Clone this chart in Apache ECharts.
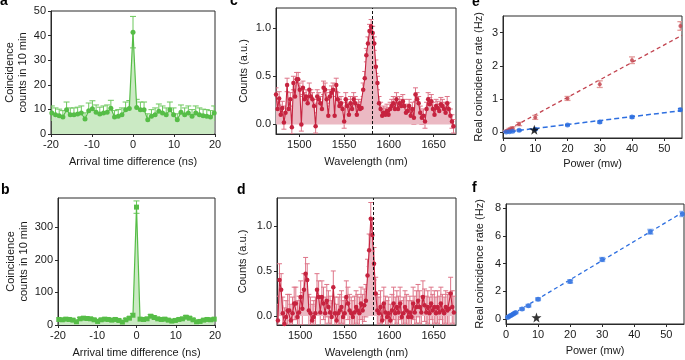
<!DOCTYPE html>
<html><head><meta charset="utf-8">
<script src="https://cdn.jsdelivr.net/npm/echarts@6/dist/echarts.min.js"></script>
<style>html,body{margin:0;padding:0;background:#fff}#c{width:685px;height:360px}</style>
</head><body><div id="c"></div>
<script>
// ---------- data ----------
// panel a: arrival time histogram (start/step of time bins)
const aStart = -19.8, aStep = 0.9;
const aCounts = [8.5,7.8,7.4,6.9,9.9,7.8,7.8,8.1,8.5,6.1,9.5,10.3,8.8,8.1,8.5,8.8,10.5,6.9,7.2,7.8,9.9,10.4,41.4,10.8,9.9,9.9,5.8,7.2,7.8,9.2,8.5,7.8,9.9,7.8,5.8,8.8,7.8,8.5,7.2,8.5,7.8,7.4,7.2,6.9,8.5];
const aErr = [2.9,2.8,2.7,2.6,3.1,2.8,2.8,2.8,2.9,2.5,3.1,3.2,3.0,2.8,2.9,3.0,3.2,2.6,2.7,2.8,3.1,3.2,6.4,3.3,3.1,3.1,2.4,2.7,2.8,3.0,2.9,2.8,3.1,2.8,2.4,3.0,2.8,2.9,2.7,2.9,2.8,2.7,2.7,2.6,2.9];
// panel b
const bStart = -19.8, bStep = 0.9;
const bCounts = [17,16,18,17,15,10,19,21,20,19,16,11,16,18,17,15,17,14,9,16,21,30,362,18,17,19,27,23,19,17,18,15,12,14,17,19,24,21,16,10,11,15,17,16,18];
const bErr = [4,4,4,4,4,3,4,5,4,4,4,3,4,4,4,4,4,4,3,4,5,5,19,4,4,4,5,5,4,4,4,4,3,4,4,4,5,5,4,3,3,4,4,4,4];
// panel c: spectrum (start/step of wavelength bins, nm)
const cStart = 1474, cStep = 1.77, cErr = 0.07, cLine = 1581;
const cCounts = [0.31,0.16,0.27,0.10,0.17,0.02,0.12,0.41,0.16,0.26,
-0.03,0.43,0.29,0.47,0.47,0.36,0.00,0.38,0.26,0.29,
0.22,0.36,0.29,0.26,0.19,-0.02,0.29,0.26,0.22,0.16,
0.38,0.36,0.26,0.09,0.29,0.33,0.36,0.09,0.41,0.26,
0.19,0.22,0.16,0.03,0.26,0.19,0.10,0.22,0.16,0.26,
0.22,0.10,0.19,0.16,0.17,0.36,0.48,0.72,0.84,0.97,
1.02,0.95,0.84,0.60,0.43,0.22,0.16,0.09,0.12,0.10,
0.14,0.10,0.16,0.19,0.22,0.16,0.26,0.16,0.22,0.19,
0.24,0.19,0.12,0.14,0.19,0.09,0.16,0.07,0.31,0.26,
0.22,0.12,0.07,0.09,0.03,0.16,0.26,0.21,0.24,0.16,
0.10,0.19,0.17,0.14,0.21,0.19,0.16,0.12,0.22,0.16,
0.09,0.03,-0.02];
// panel d
const dStart = 1475, dStep = 1.83, dErr = 0.18, dLine = 1582;
const dCounts = [-0.05,0.40,0.29,0.03,-0.09,-0.01,0.06,0.06,-0.05,0.03,
0.14,0.14,-0.01,0.04,0.21,0.08,0.29,0.47,0.40,0.06,
0.03,-0.05,-0.01,0.03,0.29,0.21,0.04,0.21,0.14,0.03,
0.17,0.10,0.04,-0.01,0.32,0.03,-0.05,0.03,0.06,0.10,
-0.01,0.03,0.21,0.14,0.06,0.03,-0.01,0.04,0.10,0.06,
0.03,0.14,0.06,0.12,0.17,0.45,0.73,1.08,0.90,0.58,
0.25,0.06,0.03,0.10,-0.05,0.14,0.04,-0.01,0.03,-0.05,
0.06,0.14,0.03,0.10,0.04,0.14,-0.01,0.03,0.10,0.06,
-0.01,0.04,-0.01,0.14,0.04,0.10,0.17,0.10,0.04,0.21,
0.12,0.04,0.10,0.03,0.14,0.06,0.10,0.03,0.10,0.04,
0.14,0.06,0.03,0.10,0.06,0.08,0.25,0.10,0.04];
// panel e
const ePowR = [1,1.5,2,2.5,3,5,10,20,30,40,55];
const eRateR = [0.03,0.05,0.08,0.10,0.12,0.25,0.45,1.02,1.45,2.17,3.20];
const eErrR = [0.03,0.03,0.04,0.04,0.05,0.05,0.06,0.06,0.10,0.10,0.13];
const eFitR = [[0,0],[55.5,2.92]];
const ePowB = [1,2,3,5,10,20,30,40,55];
const eRateB = [0.01,0.02,0.03,0.06,0.09,0.22,0.31,0.46,0.68];
const eErrB = [0.01,0.01,0.01,0.02,0.02,0.02,0.03,0.03,0.04];
const eFitB = [[0,0],[55.5,0.655]];
const eStar = [[9.7,0.08]];
// panel f
const fPow = [0.5,1,1.5,2,2.5,3,5,7,10,20,30,45,55];
const fRate = [0.12,0.20,0.27,0.33,0.40,0.47,0.74,0.97,1.44,2.72,4.30,6.30,7.58];
const fErr = [0.03,0.03,0.04,0.04,0.04,0.05,0.06,0.07,0.08,0.10,0.12,0.15,0.16];
const fFit = [[0,0.08],[55.5,7.75]];
const fStar = [[9.5,0.12]];
// tick labels
const tA = [-20,-10,0,10,20], tAy = [0,10,20,30,40,50], tBy = [0,100,200,300];
const tWl = [1500,1550,1600,1650], tCy = [0,0.5,1.0];
const tPow = [0,10,20,30,40,50], tEy = [0,1,2,3], tFy = [0,2,4,6,8];

// ---------- style ----------
const FONT = '"Liberation Sans", Arial, Helvetica, sans-serif';
const TXT = '#1a1a1a', AX = '#2a2a2a';
const GREEN = '#56bd47', GREEN_FILL = '#cbeac4', GREEN_ERR = '#6cc85c';
const RED = '#c6233f', RED_FILL = '#ebb9c3', RED_ERR = '#de7488';
const ERED = '#c2434f', ERED_ERR = '#e39a9a';
const BLUE = '#2e6fe0', BLUE_ERR = '#8db3f0';

const pairs = (xs, ys) => ys.map((y, i) => [xs[i], y]);
const grid = (left, top, width, height) => ({left, top, width, height, show:true, borderColor:AX, borderWidth:1, containLabel:false, outerBoundsMode:'none'});
const plain = v => String(v);
function xAx(gi, min, max, ticks, name, gap) {
  return {type:'value', gridIndex:gi, min, max, name, nameLocation:'middle', nameGap:gap,
    nameTextStyle:{fontSize:11, color:TXT, fontFamily:FONT},
    axisLine:{show:true, onZero:false, lineStyle:{color:AX, width:1}},
    axisTick:{show:true, length:3, customValues:ticks, lineStyle:{color:AX}},
    axisLabel:{fontSize:11, color:TXT, fontFamily:FONT, margin:5, customValues:ticks, formatter:plain},
    splitLine:{show:false}};
}
function yAx(gi, min, max, ticks, name, gap, fmt) {
  return {type:'value', gridIndex:gi, min, max, name, nameLocation:'middle', nameGap:gap,
    nameTextStyle:{fontSize:11, color:TXT, fontFamily:FONT, lineHeight:13},
    axisLine:{show:true, onZero:false, lineStyle:{color:AX, width:1}},
    axisTick:{show:true, length:3, customValues:ticks, lineStyle:{color:AX}},
    axisLabel:{fontSize:11, color:TXT, fontFamily:FONT, margin:5, customValues:ticks, formatter:fmt || plain},
    splitLine:{show:false}};
}
function errSeries(gi, xs, ys, es, color, capW, lw) {
  const data = ys.map((y, i) => [xs[i], y - (Array.isArray(es) ? es[i] : es), y + (Array.isArray(es) ? es[i] : es)]);
  return {type:'custom', xAxisIndex:gi, yAxisIndex:gi, data, silent:true, clip:true, z:2,
    encode:{x:0, y:[1,2]},
    renderItem(params, api) {
      const lo = api.coord([api.value(0), api.value(1)]);
      const hi = api.coord([api.value(0), api.value(2)]);
      const h = capW / 2;
      const st = {stroke:color, lineWidth:lw};
      return {type:'group', children:[
        {type:'line', shape:{x1:lo[0], y1:lo[1], x2:hi[0], y2:hi[1]}, style:st},
        {type:'line', shape:{x1:lo[0]-h, y1:lo[1], x2:lo[0]+h, y2:lo[1]}, style:st},
        {type:'line', shape:{x1:hi[0]-h, y1:hi[1], x2:hi[0]+h, y2:hi[1]}, style:st}
      ]};
    }};
}
const STAR = 'path://M0,-10 L2.35,-3.24 L9.51,-3.09 L3.8,1.24 L5.88,8.09 L0,4 L-5.88,8.09 L-3.8,1.24 L-9.51,-3.09 L-2.35,-3.24 Z';

const aTime = aCounts.map((_, i) => aStart + aStep * i);
const bTime = bCounts.map((_, i) => bStart + bStep * i);
const cWl = cCounts.map((_, i) => cStart + cStep * i);
const dWl = dCounts.map((_, i) => dStart + dStep * i);
const f1 = v => v.toFixed(1);

const option = {
  animation:false,
  backgroundColor:'#fff',
  textStyle:{fontFamily:FONT},
  grid:[grid(51,11,164,123), grid(58,198,157,127), grid(276,8,180,126), grid(277,198,179,127), grid(503,16,179,122), grid(506,204,178,120)],
  xAxis:[
    xAx(0,-20,20,tA,'Arrival time difference (ns)',22),
    xAx(1,-20,20,tA,'Arrival time difference (ns)',22),
    xAx(2,1474,1675,tWl,'Wavelength (nm)',22),
    xAx(3,1474,1675,tWl,'Wavelength (nm)',22),
    xAx(4,0,55.5,tPow,'Power (mw)',20),
    xAx(5,0,55.5,tPow,'Power (mw)',21)
  ],
  yAxis:[
    yAx(0,0,50,tAy,'Coincidence\ncounts in 10 min',22),
    yAx(1,0,390,tBy,'Coincidence\ncounts in 10 min',28),
    yAx(2,-0.1,1.21,tCy,'Counts (a.u.)',26,f1),
    yAx(3,-0.1,1.31,tCy,'Counts (a.u.)',28,f1),
    yAx(4,-0.17,3.5,tEy,'Real coincidence rate (Hz)',18),
    yAx(5,-0.35,8.3,tFy,'Real coincidence rate (Hz)',20)
  ],
  series:[
    errSeries(0, aTime, aCounts, aErr, GREEN_ERR, 6, 1),
    {type:'line', xAxisIndex:0, yAxisIndex:0, data:pairs(aTime,aCounts), symbol:'circle', symbolSize:5, z:3,
      itemStyle:{color:GREEN}, lineStyle:{color:GREEN, width:1.2}, areaStyle:{color:GREEN_FILL, opacity:1}},
    errSeries(1, bTime, bCounts, bErr, GREEN_ERR, 6, 1),
    {type:'line', xAxisIndex:1, yAxisIndex:1, data:pairs(bTime,bCounts), symbol:'rect', symbolSize:5, z:3,
      itemStyle:{color:GREEN}, lineStyle:{color:GREEN, width:1.2}, areaStyle:{color:GREEN_FILL, opacity:1}},
    errSeries(2, cWl, cCounts, cErr, RED_ERR, 5, 1),
    {type:'line', xAxisIndex:2, yAxisIndex:2, data:pairs(cWl,cCounts), symbol:'circle', symbolSize:4.5, z:3,
      itemStyle:{color:RED}, lineStyle:{color:RED, width:1.1}, areaStyle:{color:RED_FILL, opacity:1},
      markLine:{symbol:'none', silent:true, label:{show:false}, lineStyle:{type:[3,2], color:'#111', width:1}, data:[{xAxis:cLine}]}},
    errSeries(3, dWl, dCounts, dErr, RED_ERR, 5, 1),
    {type:'line', xAxisIndex:3, yAxisIndex:3, data:pairs(dWl,dCounts), symbol:'circle', symbolSize:4.5, z:3,
      itemStyle:{color:RED}, lineStyle:{color:RED, width:1.1}, areaStyle:{color:RED_FILL, opacity:1},
      markLine:{symbol:'none', silent:true, label:{show:false}, lineStyle:{type:[3,2], color:'#111', width:1}, data:[{xAxis:dLine}]}},
    {type:'line', xAxisIndex:4, yAxisIndex:4, data:eFitR, symbol:'none', z:1, lineStyle:{color:ERED, width:1.3, type:[4,3]}},
    {type:'line', xAxisIndex:4, yAxisIndex:4, data:eFitB, symbol:'none', z:1, lineStyle:{color:BLUE, width:1.5, type:[5,3]}},
    errSeries(4, ePowR, eRateR, eErrR, ERED_ERR, 6, 1.3),
    {type:'scatter', xAxisIndex:4, yAxisIndex:4, data:pairs(ePowR,eRateR), symbol:'circle', symbolSize:4, z:3, itemStyle:{color:ERED}},
    errSeries(4, ePowB, eRateB, eErrB, BLUE, 5, 1.2),
    {type:'scatter', xAxisIndex:4, yAxisIndex:4, data:pairs(ePowB,eRateB), symbol:'circle', symbolSize:5, z:3, itemStyle:{color:BLUE}},
    {type:'scatter', xAxisIndex:4, yAxisIndex:4, data:eStar, symbol:STAR, symbolSize:10, z:4, itemStyle:{color:'#000'}},
    {type:'line', xAxisIndex:5, yAxisIndex:5, data:fFit, symbol:'none', z:1, lineStyle:{color:BLUE, width:1.3, type:[4,3]}},
    errSeries(5, fPow, fRate, fErr, BLUE_ERR, 6, 2),
    {type:'scatter', xAxisIndex:5, yAxisIndex:5, data:pairs(fPow,fRate), symbol:'circle', symbolSize:5, z:3, itemStyle:{color:BLUE}},
    {type:'scatter', xAxisIndex:5, yAxisIndex:5, data:fStar, symbol:STAR, symbolSize:10, z:4, itemStyle:{color:'#000'}}
  ],
  graphic:[
    {type:'text', left:0, top:-6, style:{text:'a', font:'bold 14px "Liberation Sans", Arial', fill:'#000'}},
    {type:'text', left:1, top:183, style:{text:'b', font:'bold 14px "Liberation Sans", Arial', fill:'#000'}},
    {type:'text', left:230, top:-6, style:{text:'c', font:'bold 14px "Liberation Sans", Arial', fill:'#000'}},
    {type:'text', left:237, top:183, style:{text:'d', font:'bold 14px "Liberation Sans", Arial', fill:'#000'}},
    {type:'text', left:472, top:-5, style:{text:'e', font:'bold 14px "Liberation Sans", Arial', fill:'#000'}},
    {type:'text', left:472, top:181, style:{text:'f', font:'bold 14px "Liberation Sans", Arial', fill:'#000'}}
  ]
};
const chart = echarts.init(document.getElementById('c'), null, {renderer:'canvas'});
chart.setOption(option);
</script>
</body></html>
